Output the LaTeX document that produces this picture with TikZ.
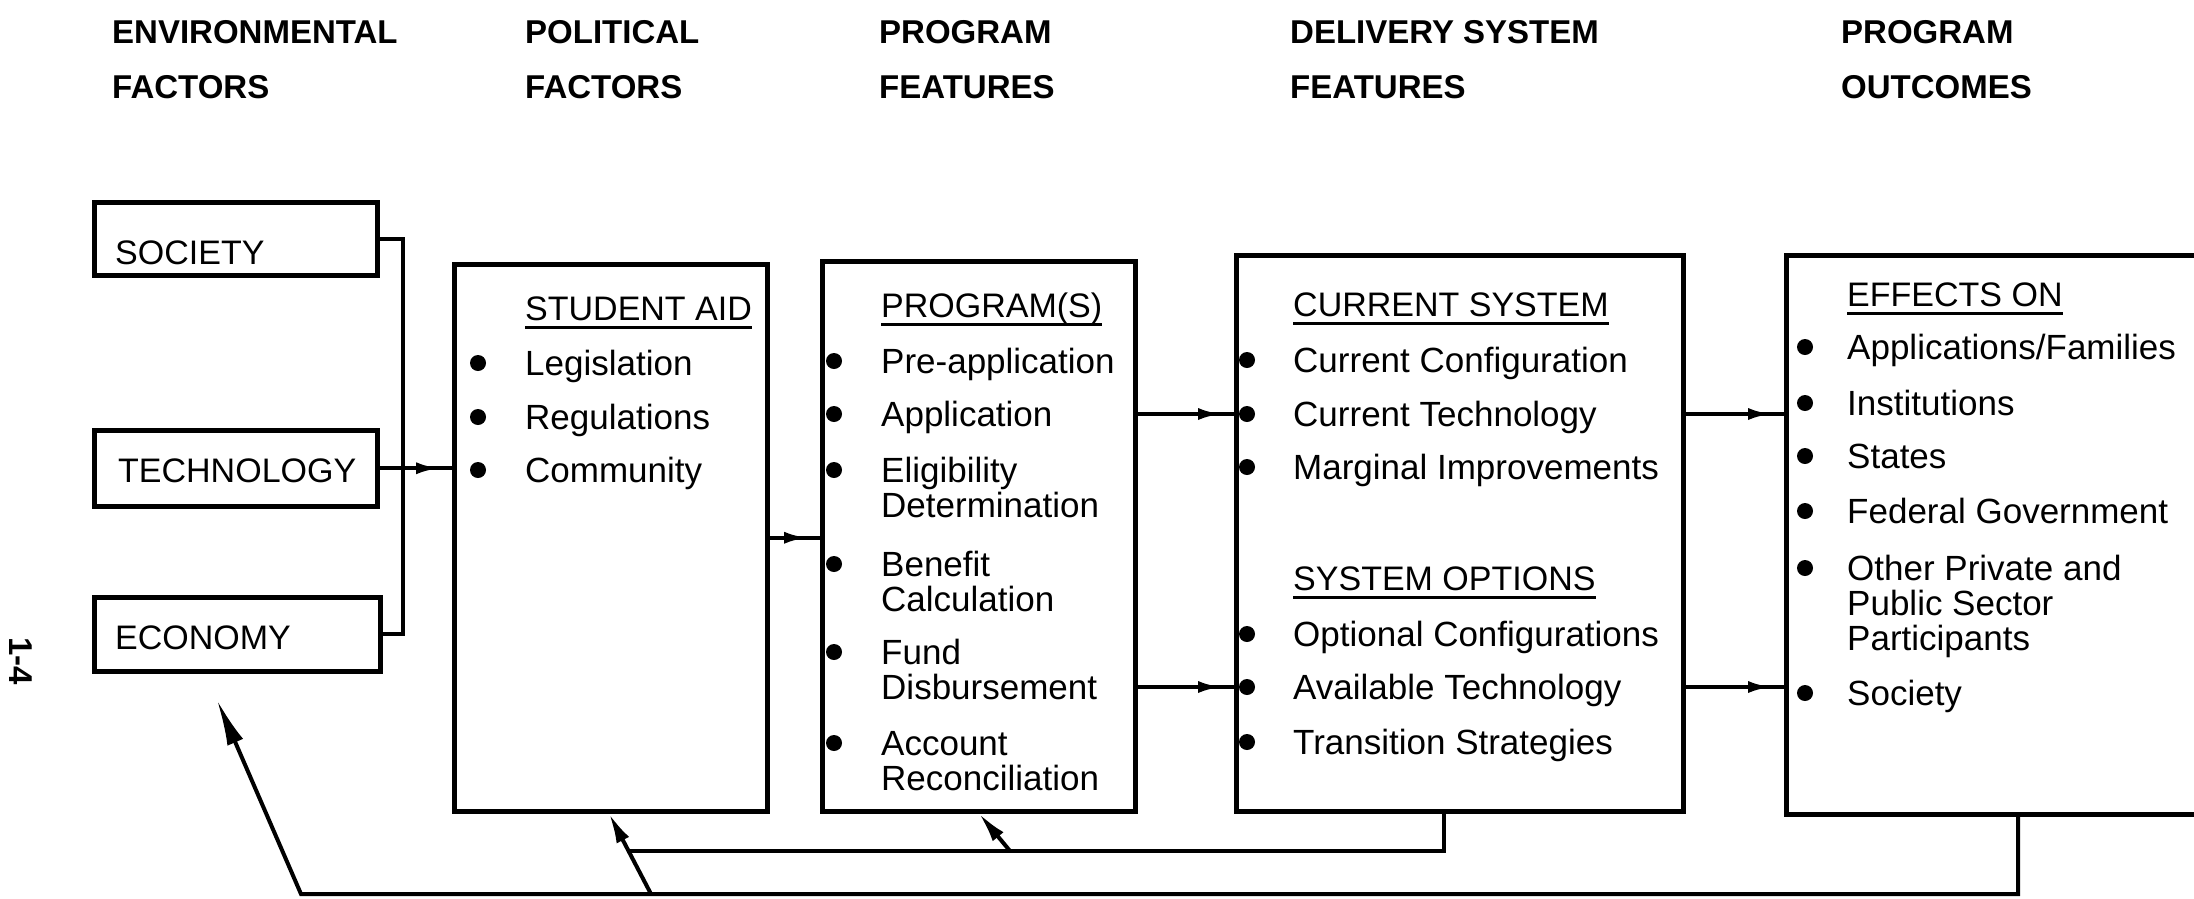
\documentclass[tikz,border=0pt]{standalone}
\usepackage{fontspec}
\setmainfont{Liberation Sans}
\usetikzlibrary{arrows.meta,decorations.markings}

\tikzset{
  bx/.style={draw, line width=4.5pt, anchor=north west, inner sep=0pt},
  hdr/.style={anchor=base west, inner sep=0pt, font=\fontsize{33}{33}\selectfont\bfseries},
  lbl/.style={anchor=base west, inner sep=0pt, font=\fontsize{34}{34}\selectfont},
  itm/.style={anchor=base west, inner sep=0pt, font=\fontsize{35}{35}\selectfont},
  ttl/.style={anchor=base west, inner sep=0pt, font=\fontsize{34}{34}\selectfont},
  dot/.style={circle, fill, inner sep=0pt, minimum size=16pt},
  uline/.style={line width=3pt},
  wire/.style={line width=4pt},
  flow/.style={wire, postaction={decorate},
    decoration={markings, mark=at position -12pt with {\arrow{Latex[length=24pt,width=12pt]}}}},
  back/.style={wire, -{Latex[length=30pt,width=14pt]}},
  longback/.style={wire, -{Latex[length=46pt,width=17pt]}},
}

\begin{document}
\begin{tikzpicture}[x=1pt,y=-1pt]
\useasboundingbox (0,0) rectangle (2194,898);
\clip (0,0) rectangle (2194,898);

% column headings
\node[hdr] (h1a) at (112,43) {ENVIRONMENTAL};
\node[hdr] (h1b) at (112,98) {FACTORS};
\node[hdr] (h2a) at (525,43) {POLITICAL};
\node[hdr] (h2b) at (525,98) {FACTORS};
\node[hdr] (h3a) at (879,43) {PROGRAM};
\node[hdr] (h3b) at (879,98) {FEATURES};
\node[hdr] (h4a) at (1290,43) {DELIVERY SYSTEM};
\node[hdr] (h4b) at (1290,98) {FEATURES};
\node[hdr] (h5a) at (1841,43) {PROGRAM};
\node[hdr] (h5b) at (1841,98) {OUTCOMES};

% page number
\node[font=\fontsize{33}{33}\selectfont\bfseries, rotate=-90, inner sep=0pt] (pg) at (21,661) {1-4};

% environmental factor boxes
\node[bx, minimum width=283pt, minimum height=73pt] (soc) at (92,200) {};
\node[bx, minimum width=283pt, minimum height=76pt] (tech) at (92,428) {};
\node[bx, minimum width=286pt, minimum height=74pt] (econ) at (92,595) {};
\node[lbl] (socT) at (115,264) {SOCIETY};
\node[lbl] (techT) at (118,482) {TECHNOLOGY};
\node[lbl] (econT) at (115,649) {ECONOMY};

% main boxes
\node[bx, minimum width=313pt, minimum height=547pt] (sa) at (452,262) {};
\node[bx, minimum width=313pt, minimum height=550pt] (prog) at (820,259) {};
\node[bx, minimum width=447pt, minimum height=556pt] (deliv) at (1234,253) {};
\node[bx, minimum width=450pt, minimum height=559pt] (outc) at (1784,253) {};

% student aid
\node[ttl] (saT) at (525,320) {STUDENT AID};
\draw[uline] ([yshift=-7pt]saT.base west) -- ([yshift=-7pt]saT.base east);
\node[dot] (sb1) at (478,363) {};
\node[itm] (si1) at (525,375) {Legislation};
\node[dot] (sb2) at (478,417) {};
\node[itm] (si2) at (525,429) {Regulations};
\node[dot] (sb3) at (478,470) {};
\node[itm] (si3) at (525,482) {Community};

% programs
\node[ttl] (pT) at (881,317) {PROGRAM(S)};
\draw[uline] ([yshift=-7pt]pT.base west) -- ([yshift=-7pt]pT.base east);
\node[dot] (pb1) at (834,361) {};
\node[itm] (pi1) at (881,373) {Pre-application};
\node[dot] (pb2) at (834,414) {};
\node[itm] (pi2) at (881,426) {Application};
\node[dot] (pb3) at (834,470) {};
\node[itm] (pi3a) at (881,482) {Eligibility};
\node[itm] (pi3b) at (881,517) {Determination};
\node[dot] (pb4) at (834,564) {};
\node[itm] (pi4a) at (881,576) {Benefit};
\node[itm] (pi4b) at (881,611) {Calculation};
\node[dot] (pb5) at (834,652) {};
\node[itm] (pi5a) at (881,664) {Fund};
\node[itm] (pi5b) at (881,699) {Disbursement};
\node[dot] (pb6) at (834,743) {};
\node[itm] (pi6a) at (881,755) {Account};
\node[itm] (pi6b) at (881,790) {Reconciliation};

% delivery system
\node[ttl] (dT1) at (1293,316) {CURRENT SYSTEM};
\draw[uline] ([yshift=-7pt]dT1.base west) -- ([yshift=-7pt]dT1.base east);
\node[dot] (db1) at (1247,360) {};
\node[itm] (di1) at (1293,372) {Current Configuration};
\node[dot] (db2) at (1247,414) {};
\node[itm] (di2) at (1293,426) {Current Technology};
\node[dot] (db3) at (1247,467) {};
\node[itm] (di3) at (1293,479) {Marginal Improvements};
\node[ttl] (dT2) at (1293,590) {SYSTEM OPTIONS};
\draw[uline] ([yshift=-7pt]dT2.base west) -- ([yshift=-7pt]dT2.base east);
\node[dot] (db4) at (1247,634) {};
\node[itm] (di4) at (1293,646) {Optional Configurations};
\node[dot] (db5) at (1247,687) {};
\node[itm] (di5) at (1293,699) {Available Technology};
\node[dot] (db6) at (1247,742) {};
\node[itm] (di6) at (1293,754) {Transition Strategies};

% outcomes
\node[ttl] (oT) at (1847,306) {EFFECTS ON};
\draw[uline] ([yshift=-7pt]oT.base west) -- ([yshift=-7pt]oT.base east);
\node[dot] (ob1) at (1805,347) {};
\node[itm] (oi1) at (1847,359) {Applications/Families};
\node[dot] (ob2) at (1805,403) {};
\node[itm] (oi2) at (1847,415) {Institutions};
\node[dot] (ob3) at (1805,456) {};
\node[itm] (oi3) at (1847,468) {States};
\node[dot] (ob4) at (1805,511) {};
\node[itm] (oi4) at (1847,523) {Federal Government};
\node[dot] (ob5) at (1805,568) {};
\node[itm] (oi5a) at (1847,580) {Other Private and};
\node[itm] (oi5b) at (1847,615) {Public Sector};
\node[itm] (oi5c) at (1847,650) {Participants};
\node[dot] (ob6) at (1805,693) {};
\node[itm] (oi6) at (1847,705) {Society};

% forward connectors
\coordinate (bus) at (403,469);
\draw[wire] (soc.east) -| (bus) |- (econ.east);
\draw[flow] (tech.east) -- (tech.east -| sa.west);
\draw[flow] (sa.east) -- (sa.east -| prog.west);
\draw[flow] (prog.east |- db2) -- (deliv.west |- db2);
\draw[flow] (prog.east |- db5) -- (deliv.west |- db5);
\draw[flow] (deliv.east |- db2) -- (outc.west |- db2);
\draw[flow] (deliv.east |- db5) -- (outc.west |- db5);

% feedback connectors
\coordinate (odrop) at ([xshift=234pt]outc.south west);
\coordinate (low) at (301,894);
\coordinate (ein) at (217,700);
\draw[longback] (odrop) |- (low) -- (ein);
\coordinate (safoot) at (651,894);
\coordinate (sain) at ([xshift=157pt]sa.south west);
\draw[back] (safoot) -- (sain);
\coordinate (ddrop) at ([xshift=210pt]deliv.south west);
\coordinate (join) at (630,851);
\draw[wire] (ddrop) |- (join);
\coordinate (pfoot) at (1010,851);
\coordinate (pin) at ([xshift=159pt]prog.south west);
\draw[back] (pfoot) -- (pin);
\end{tikzpicture}
\end{document}
